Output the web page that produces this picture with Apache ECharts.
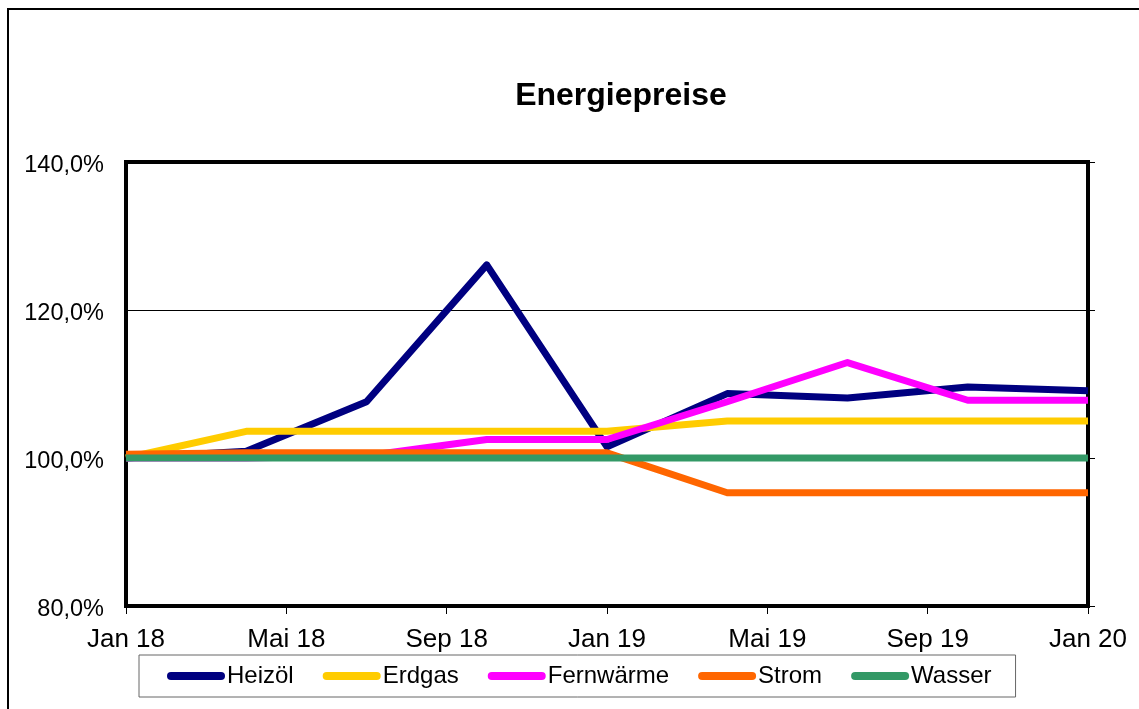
<!DOCTYPE html>
<html>
<head>
<meta charset="utf-8">
<title>Energiepreise</title>
<script src="https://cdn.jsdelivr.net/npm/echarts@6/dist/echarts.min.js"></script>
<style>
  html, body { margin: 0; padding: 0; background: #fff; }
  #chart { width: 1139px; height: 709px; }
</style>
</head>
<body>
<div id="chart"></div>
<script>
// Monate seit Jan 18 (Quartalswerte)
var months = [0, 3, 6, 9, 12, 15, 18, 21, 24];
var xTickLabels = ['Jan 18', 'Mai 18', 'Sep 18', 'Jan 19', 'Mai 19', 'Sep 19', 'Jan 20'];
var yTickLabels = ['80,0%', '100,0%', '120,0%', '140,0%'];

var heizoel    = [100, 100.9, 107.6, 126.1, 101.5, 108.7, 108.1, 109.6, 109.1];
var erdgas     = [100, 103.6, 103.6, 103.6, 103.6, 105.0, 105.0, 105.0, 105.0];
var fernwaerme = [100, 100, 100.3, 102.5, 102.5, 107.6, 112.9, 107.8, 107.8];
var strom      = [100.5, 100.7, 100.7, 100.7, 100.7, 95.3, 95.3, 95.3, 95.3];
var wasser     = [100, 100, 100, 100, 100, 100, 100, 100, 100];

var seriesNames  = ['Heizöl', 'Erdgas', 'Fernwärme', 'Strom', 'Wasser'];
var seriesData   = [heizoel, erdgas, fernwaerme, strom, wasser];
var seriesColors = ['#000080', '#FFCC00', '#FF00FF', '#FF6600', '#339966'];

var font = 'Liberation Sans, Arial, sans-serif';

var myChart = echarts.init(document.getElementById('chart'));

var series = seriesNames.map(function (name, i) {
  return {
    name: name,
    type: 'line',
    data: months.map(function (m, j) { return [m, seriesData[i][j]]; }),
    symbol: 'none',
    smooth: false,
    color: seriesColors[i],
    lineStyle: { width: 7, color: seriesColors[i], join: 'round' },
    emphasis: { disabled: true }
  };
});

var option = {
  animation: false,
  backgroundColor: '#fff',
  graphic: [{
    type: 'rect',
    shape: { x: 8, y: 9, width: 1200, height: 800 },
    style: { fill: 'none', stroke: '#000', lineWidth: 2 },
    silent: true
  }],
  title: {
    text: 'Energiepreise',
    left: 616,
    textAlign: 'center',
    top: 75,
    textStyle: { fontFamily: font, fontSize: 32, fontWeight: 'bold', color: '#000' }
  },
  legend: {
    data: seriesNames,
    left: 139,
    top: 655,
    orient: 'horizontal',
    padding: [9, 24, 9, 28],
    itemGap: 29,
    itemWidth: 58,
    itemHeight: 8,
    icon: 'path://M4,0 L54,0 A4,4 0 0 1 54,8 L4,8 A4,4 0 0 1 4,0 Z',
    borderColor: '#666',
    borderWidth: 1,
    textStyle: { fontFamily: font, fontSize: 24, color: '#000', padding: [2, 0, 0, -3] }
  },
  grid: {
    left: 126,
    right: 51,
    top: 162,
    bottom: 103,
    show: true,
    borderColor: '#000',
    borderWidth: 4,
    backgroundColor: 'transparent'
  },
  xAxis: {
    type: 'value',
    min: 0,
    max: 24,
    interval: 4,
    axisLine: { show: false },
    axisTick: { show: true, length: 8, lineStyle: { color: '#000', width: 1 } },
    splitLine: { show: false },
    axisLabel: {
      fontFamily: font, fontSize: 26, color: '#000', margin: 21,
      formatter: function (v) { return xTickLabels[v / 4]; }
    }
  },
  yAxis: [{
    type: 'value',
    min: 80,
    max: 140,
    interval: 20,
    axisLine: { show: false },
    axisTick: { show: false },
    splitLine: { show: true, lineStyle: { color: '#000', width: 1 } },
    axisLabel: {
      fontFamily: font, fontSize: 23.5, color: '#000', margin: 22,
      verticalAlign: 'top',
      lineHeight: 8,
      formatter: function (v) { return yTickLabels[(v - 80) / 20]; }
    }
  }, {
    type: 'value',
    position: 'right',
    min: 80,
    max: 140,
    interval: 20,
    axisLine: { show: false },
    axisTick: { show: true, length: 7, lineStyle: { color: '#000', width: 1 } },
    splitLine: { show: false },
    axisLabel: { show: false }
  }],
  series: series
};

myChart.setOption(option);
window.onresize = myChart.resize;
</script>
</body>
</html>
